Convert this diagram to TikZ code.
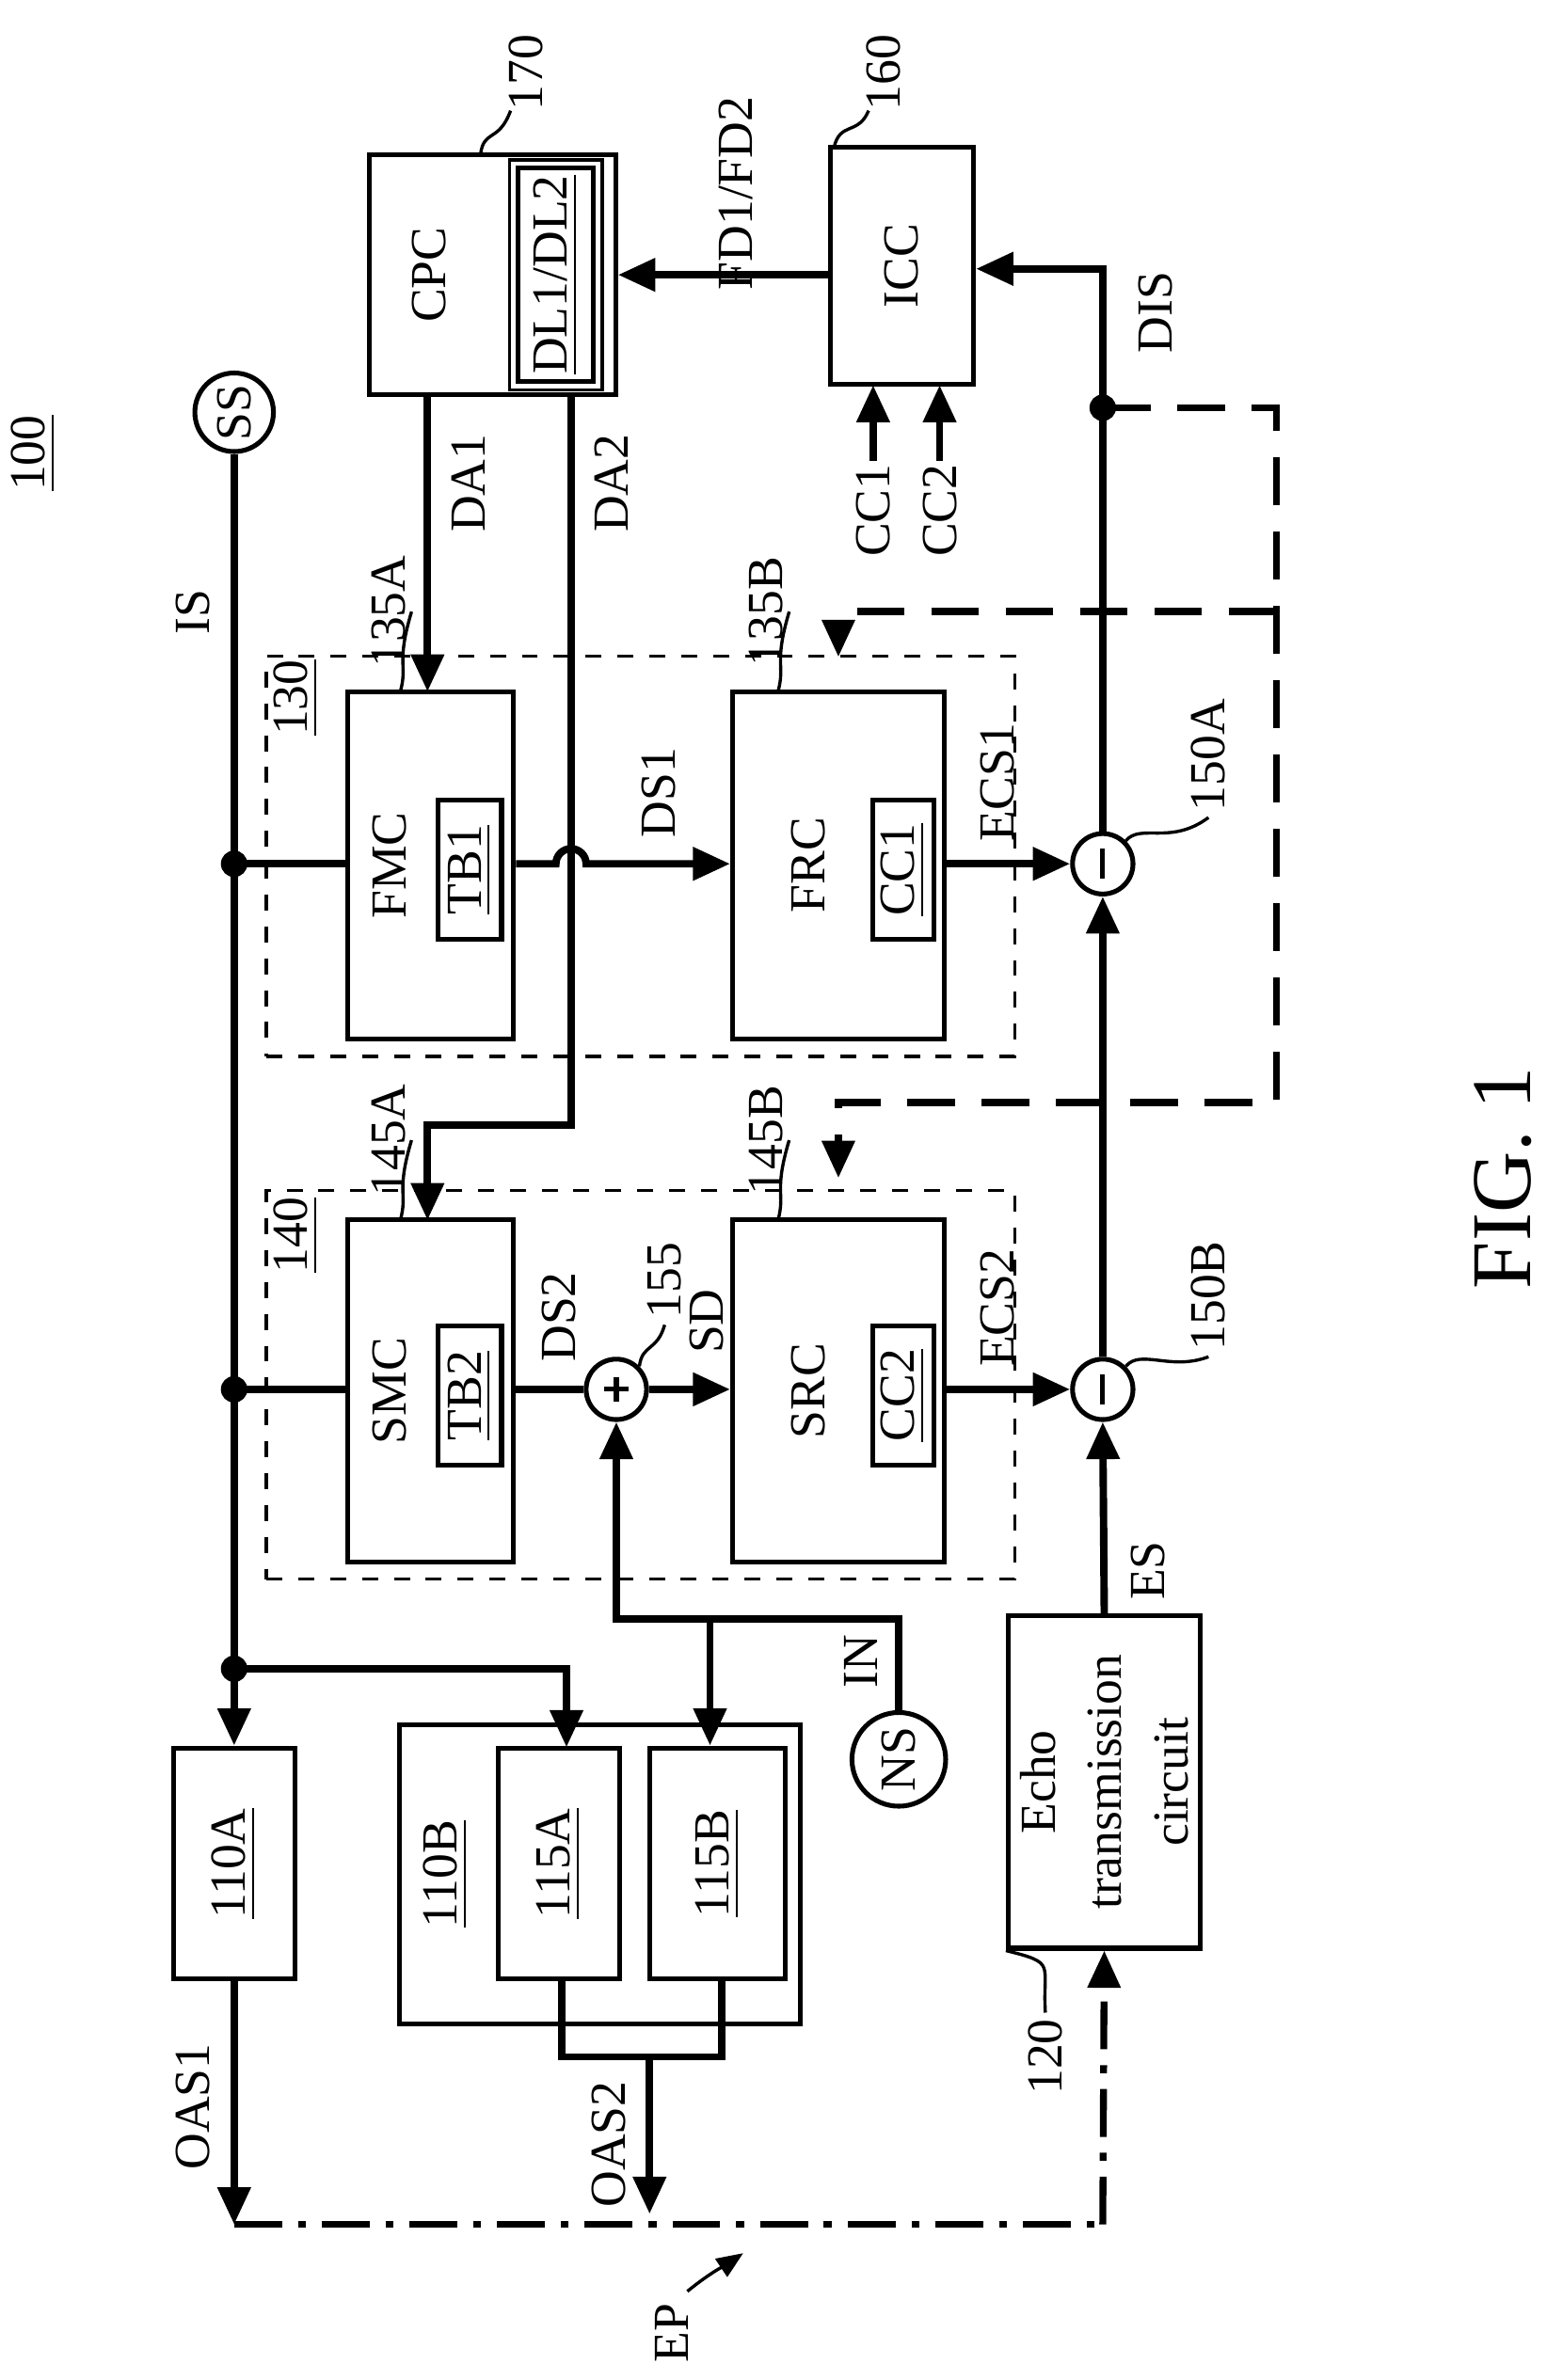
\documentclass[tikz,border=0pt]{standalone}
\usepackage{fontspec}
\setmainfont{Liberation Serif}
\usetikzlibrary{arrows.meta,positioning,calc}

\tikzset{
	blk/.style={draw, line width=0.9pt, inner sep=0pt},
	grp/.style={draw, dashed, line width=0.6pt, inner sep=0pt},
	rt/.style={rotate=90, font=\fontsize{9.5}{11}\selectfont, inner sep=1pt},
	sig/.style={line width=1.4pt},
	sigar/.style={line width=1.4pt, -{Triangle[length=7pt,width=6pt]}},
	dsh/.style={line width=1.3pt, dash pattern=on 9pt off 5pt},
	dshar/.style={dsh, -{Triangle[length=7pt,width=6pt]}},
	dsd/.style={line width=1.3pt, dash pattern=on 9pt off 3pt on 1.5pt off 3pt},
	lead/.style={line width=0.6pt},
	sum/.style={draw, circle, line width=0.9pt, minimum size=0.40cm, inner sep=0pt},
	src/.style={draw, circle, line width=0.9pt, inner sep=0pt},
	dot/.style={circle, fill, inner sep=0pt, minimum size=5pt}
}

\begin{document}
\begin{tikzpicture}[x=0.01cm, y=-0.01cm]
	\useasboundingbox (0,0) rectangle (1024,1576);

	% top blocks
	\node[rt] at (22,300) {\underline{100}};
	\node[blk, minimum width=1.63cm, minimum height=1.59cm] (cpc) at (326,182) {};
	\node[blk, minimum width=0.50cm, minimum height=1.41cm] (dl) at (368,182) {};
	\draw[lead] ($(dl.south west)+(-4,4)$) rectangle ($(dl.north east)+(4,-4)$);
	\node[rt] at (284,182) {CPC};
	\node[rt] at (368,182) {\underline{DL1/DL2}};
	\node[blk, minimum width=0.95cm, minimum height=1.57cm] (icc) at (597,176) {};
	\node[rt] at (597,176) {ICC};
	\node[rt] (l170) at (348,48) {170};
	\node[rt] (l160) at (585,48) {160};
	\draw[lead] ($(l170.west)+(-10,-4)$) .. controls (330,95) and (320,85) .. (318,103);
	\draw[lead] ($(l160.west)+(-10,-4)$) .. controls (568,90) and (556,80) .. (552,98);

	\draw[sigar] (icc.west |- 0,182) -- (cpc.east |- 0,182);
	\node[rt] at (487,128) {FD1/FD2};

	% source SS and IS
	\node[src, minimum size=0.52cm] (ss) at (155,273) {};
	\node[rt] at (ss) {SS};
	\node[rt] at (128,405) {IS};

	% group 130
	\node[grp, minimum width=4.95cm, minimum height=2.65cm] (g130) at (424,567) {};
	\node[rt] at (196,462) {\underline{130}};
	\node[blk, minimum width=1.10cm, minimum height=2.30cm] (fmc) at (285,573) {};
	\node[blk, minimum width=0.42cm, minimum height=0.92cm] (tb1) at (311,576) {};
	\node[rt] at (258,573) {FMC};
	\node[rt] at (311,576) {\underline{TB1}};
	\node[blk, minimum width=1.40cm, minimum height=2.30cm] (frc) at (555,573) {};
	\node[blk, minimum width=0.40cm, minimum height=0.92cm] (cc1) at (598,576) {};
	\node[rt] at (535,573) {FRC};
	\node[rt] at (598,576) {\underline{CC1}};
	\node[rt] (l135a) at (257,405) {135A};
	\node[rt] (l135b) at (507,405) {135B};
	\draw[lead] (l135a.south) .. controls (262,440) and (270,440) .. (265,458);
	\draw[lead] (l135b.south) .. controls (512,440) and (520,440) .. (515,458);

	\node[sum] (m1) at (730,572) {};
	\draw[line width=0.9pt] (730,562) -- (730,582);
	\node[rt] (l150a) at (800,500) {150A};
	\draw[lead] (m1.north east) .. controls (755,545) and (775,560) .. (l150a.west);

	% group 140
	\node[grp, minimum width=4.95cm, minimum height=2.57cm] (g140) at (424,917) {};
	\node[rt] at (196,818) {\underline{140}};
	\node[blk, minimum width=1.10cm, minimum height=2.27cm] (smc) at (285,921) {};
	\node[blk, minimum width=0.42cm, minimum height=0.92cm] (tb2) at (311,924) {};
	\node[rt] at (258,921) {SMC};
	\node[rt] at (311,924) {\underline{TB2}};
	\node[blk, minimum width=1.40cm, minimum height=2.27cm] (srcb) at (555,921) {};
	\node[blk, minimum width=0.40cm, minimum height=0.92cm] (cc2) at (598,924) {};
	\node[rt] at (535,921) {SRC};
	\node[rt] at (598,924) {\underline{CC2}};
	\node[rt] (l145a) at (257,755) {145A};
	\node[rt] (l145b) at (507,755) {145B};
	\draw[lead] (l145a.south) .. controls (262,790) and (270,790) .. (265,808);
	\draw[lead] (l145b.south) .. controls (512,790) and (520,790) .. (515,808);

	\node[sum] (p1) at (408,920) {};
	\draw[line width=0.9pt] (400,920) -- (416,920) (408,912) -- (408,928);
	\node[rt] (l155) at (440,848) {155};
	\draw[lead] (p1.north east) .. controls (425,890) and (435,895) .. (l155.west);
	\node[sum] (m2) at (730,920) {};
	\draw[line width=0.9pt] (730,910) -- (730,930);
	\node[rt] (l150b) at (800,858) {150B};
	\draw[lead] (m2.north east) .. controls (755,893) and (775,908) .. (l150b.west);

	% lower blocks
	\node[blk, minimum width=0.80cm, minimum height=1.53cm] (b110a) at (155,1234) {};
	\node[rt] at (155,1234) {\underline{110A}};
	\node[blk, minimum width=2.65cm, minimum height=1.98cm] (b110b) at (397,1241) {};
	\node[rt] at (295,1241) {\underline{110B}};
	\node[blk, minimum width=0.80cm, minimum height=1.53cm] (b115a) at (370,1234) {};
	\node[rt] at (370,1234) {\underline{115A}};
	\node[blk, minimum width=0.90cm, minimum height=1.53cm] (b115b) at (475,1234) {};
	\node[rt] at (475,1234) {\underline{115B}};
	\node[src, minimum size=0.62cm] (ns) at (595,1165) {};
	\node[rt] at (ns) {NS};
	\node[rt] at (570,1100) {IN};
	\node[blk, minimum width=1.27cm, minimum height=2.20cm] (echo) at (731,1180) {};
	\node[rt, align=center, font=\fontsize{9.5}{12.5}\selectfont] at (731,1180) {Echo\\transmission\\circuit};
	\node[rt] (l120) at (692,1362) {120};
	\draw[lead] (l120.east) .. controls (690,1300) and (700,1300) .. (echo.south west);

	% coordinates
	\coordinate (dis) at (730,270);
	\coordinate (is1) at (155,572);
	\coordinate (is2) at (155,920);
	\coordinate (is3) at (155,1105);
	\coordinate (oas1) at (155,1473);
	\coordinate (ep) at (730,1473);
	\coordinate (in) at (470,1072);
	\coordinate (da2a) at (378,745);

	% IS feed
	\draw[sig] (ss.south) -- (is1);
	\draw[sig] (is1) -- (is3);
	\draw[sigar] (is3) -- (b110a.north);
	\draw[sig] (is1) -- (fmc.west |- is1);
	\draw[sig] (is2) -- (smc.west |- is2);
	\draw[sigar] (is3) -- (375,1105) -- (375,1157);
	\foreach \d in {is1,is2,is3} \node[dot] at (\d) {};

	% DA1, DA2
	\draw[sigar] (283,262) -- (283,458);
	\node[rt] at (310,320) {DA1};
	\draw[sigar] (378,262) -- (da2a) -- (283,745) -- (283,808);
	\node[rt] at (405,320) {DA2};

	% DS1 with hop
	\draw[sigar] (fmc.east |- 0,572) -- (368,572) arc (180:360:10) -- (frc.west |- 0,572);
	\node[rt] at (436,525) {DS1};
	\draw[sigar] (frc.east |- 0,572) -- (m1.west);
	\node[rt] at (660,518) {ECS1};

	% DS2, SD, ECS2
	\draw[sig] (smc.east |- p1) -- (p1.west);
	\node[rt] at (370,872) {DS2};
	\draw[sigar] (p1.east) -- (srcb.west |- p1);
	\node[rt] at (468,875) {SD};
	\draw[sigar] (srcb.east |- m2) -- (m2.west);
	\node[rt] at (660,866) {ECS2};

	% noise
	\draw[sigar] (ns.north) -- (595,1072) -- (408,1072) -- (p1.south);
	\draw[sigar] (in) -- (b115b.north -| in);

	% echo path
	\draw[sigar] (echo.north) -- (m2.south);
	\node[rt] at (760,1040) {ES};
	\draw[sigar] (m2.north) -- (m1.south);
	\draw[sig] (m1.north) -- (dis);
	\draw[sigar] (dis) -- (730,178) -- (icc.east |- 0,178);
	\node[dot] at (dis) {};
	\node[rt] at (765,207) {DIS};

	% CC1 CC2 inputs
	\draw[sigar] (578,305) -- (578,255);
	\draw[sigar] (622,305) -- (622,255);
	\node[rt] at (578,338) {CC1};
	\node[rt] at (622,338) {CC2};

	% dashed control
	\draw[dshar] (dis) -- (845,270) -- (845,730) -- (555,730) -- (555,780);
	\draw[dshar] (845,405) -- (555,405) -- (555,435);

	% outputs
	\draw[sigar] (b110a.south) -- (oas1);
	\node[rt] at (128,1395) {OAS1};
	\draw[sig] (372,1310) -- (372,1362) -- (478,1362) -- (478,1310);
	\draw[sigar] (430,1362) -- (430,1466);
	\node[rt] at (403,1420) {OAS2};
	\draw[dsd] (oas1) -- (ep);
	\draw[dsd, -{Triangle[length=7pt,width=6pt]}] (ep) -- (echo.south);
	\node[rt] (lep) at (445,1545) {EP};
	\draw[lead, -{Triangle[length=5pt,width=4pt]}] ($(lep.east)+(10,-4)$) .. controls (470,1505) and (480,1500) .. (492,1492);

	\node[rotate=90, font=\fontsize{16}{18}\selectfont] at (995,780) {FIG. 1};
\end{tikzpicture}
\end{document}
